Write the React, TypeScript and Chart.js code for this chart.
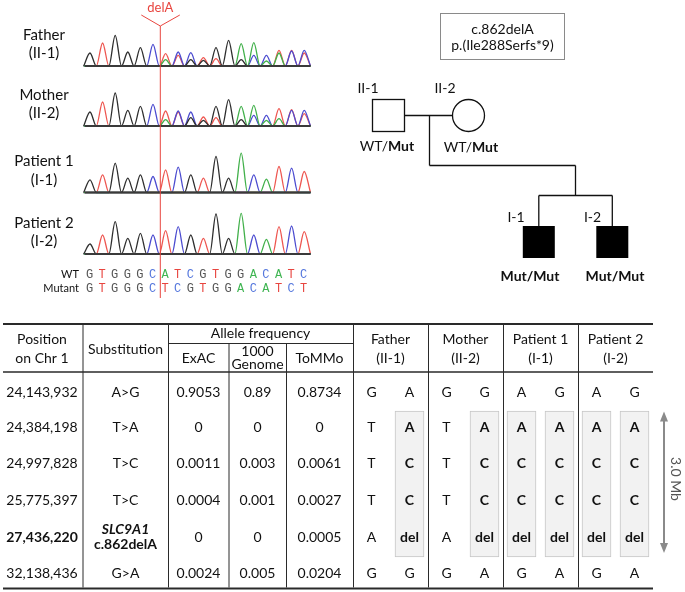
import React, { useEffect, useRef } from "react";
import { Chart, registerables } from "chart.js";

Chart.register(...registerables);

// ---------------- Chromatogram data ----------------
// Base calls shown under the traces
const WT_SEQ = ["G", "T", "G", "G", "G", "C", "A", "T", "C", "G", "T", "G", "G", "A", "C", "A", "T", "C"];
const MUT_SEQ = ["G", "T", "G", "G", "G", "C", "T", "C", "G", "T", "G", "G", "A", "C", "A", "T", "C", "T"];

const SAMPLE_NAMES = ["Father", "Mother", "Patient 1", "Patient 2"];
const SAMPLE_IDS = ["(II-1)", "(II-2)", "(I-1)", "(I-2)"];

// Peak heights at each of the 18 base positions (G = black, T = red, C = blue, A = green)
const FATHER_G = [13, 0, 30.7, 14, 18.3, 0, 0, 0, 6.3, 5.7, 18.3, 25.7, 6.3, 0, 0, 0, 0, 0];
const FATHER_T = [0, 23, 0, 0, 0, 0, 12.3, 10.7, 0, 8.3, 7.3, 0, 0, 0, 0, 15.7, 15.7, 13];
const FATHER_C = [0, 0, 0, 0, 0, 21.7, 0, 14, 13.3, 0, 0, 0, 0, 10.7, 10.7, 0, 15, 15.7];
const FATHER_A = [0, 0, 0, 0, 0, 0, 6.3, 0, 0, 0, 0, 0, 22.3, 23.3, 5, 13, 0, 0];

const MOTHER_G = [14, 0, 33, 15.7, 19.7, 0, 0, 0, 8.3, 5.7, 19.7, 26.3, 6.3, 0, 0, 0, 0, 0];
const MOTHER_T = [0, 24, 0, 0, 0, 0, 15, 14, 0, 9, 8.3, 0, 0, 0, 0, 17.3, 16.3, 12.3];
const MOTHER_C = [0, 0, 0, 0, 0, 21.7, 0, 15, 14, 0, 0, 0, 0, 10.7, 10.7, 0, 15.7, 15.7];
const MOTHER_A = [0, 0, 0, 0, 0, 0, 6.3, 0, 0, 0, 0, 0, 19.7, 20.7, 5.7, 7.3, 0, 0];

const P1_G = [12.7, 0, 29.3, 14.3, 17.7, 0, 0, 0, 17.7, 0, 36, 14.3, 0, 0, 0, 0, 0, 0];
const P1_T = [0, 17.7, 0, 0, 0, 0, 22.7, 0, 0, 14.3, 0, 0, 0, 0, 0, 26, 0, 21];
const P1_C = [0, 0, 0, 0, 0, 16, 0, 25.3, 0, 0, 0, 0, 0, 17.7, 0, 0, 24.3, 0];
const P1_A = [0, 0, 0, 0, 0, 0, 0, 0, 0, 0, 0, 0, 39.3, 0, 13.3, 0, 0, 0];

const P2_G = [10, 0, 32.3, 15.7, 20.7, 0, 0, 0, 19, 0, 40, 15.7, 0, 0, 0, 0, 0, 0];
const P2_T = [0, 19, 0, 0, 0, 0, 23.3, 0, 0, 15.7, 0, 0, 0, 0, 0, 27.3, 0, 22.3];
const P2_C = [0, 0, 0, 0, 0, 19, 0, 27.3, 0, 0, 0, 0, 0, 19, 0, 0, 28, 0];
const P2_A = [0, 0, 0, 0, 0, 0, 0, 0, 0, 0, 0, 0, 40.7, 0, 14.7, 0, 0, 0];

// ---------------- Table data ----------------
const POSITIONS = ["24,143,932", "24,384,198", "24,997,828", "25,775,397", "27,436,220", "32,138,436"];
const SUBSTITUTIONS = ["A>G", "T>A", "T>C", "T>C", "c.862delA", "G>A"];
const EXAC = ["0.9053", "0", "0.0011", "0.0004", "0", "0.0024"];
const G1000 = ["0.89", "0", "0.003", "0.001", "0", "0.005"];
const TOMMO = ["0.8734", "0", "0.0061", "0.0027", "0.0005", "0.0204"];
const PERSON_HEADERS = [["Father", "(II-1)"], ["Mother", "(II-2)"], ["Patient 1", "(I-1)"], ["Patient 2", "(I-2)"]];
const FATHER_ALLELES = [["G", "A"], ["T", "A"], ["T", "C"], ["T", "C"], ["A", "del"], ["G", "G"]];
const MOTHER_ALLELES = [["G", "G"], ["T", "A"], ["T", "C"], ["T", "C"], ["A", "del"], ["G", "A"]];
const P1_ALLELES = [["A", "G"], ["A", "A"], ["C", "C"], ["C", "C"], ["del", "del"], ["G", "A"]];
const P2_ALLELES = [["A", "G"], ["A", "A"], ["C", "C"], ["C", "C"], ["del", "del"], ["G", "A"]];
// which allele column carries the shared mutant haplotype (rows 2-5)
const HAPLO_FATHER = [false, true];
const HAPLO_MOTHER = [false, true];
const HAPLO_P1 = [true, true];
const HAPLO_P2 = [true, true];
const HAPLO_FIRST_ROW = 1;
const HAPLO_LAST_ROW = 4;
const MUTATION_ROW = 4;

// ---------------- Layout & style (figure pixel units) ----------------
const W = 685;
const H = 592;
const FONT = "Lato, 'Open Sans', sans-serif";
const MONO = "'Liberation Mono', 'DejaVu Sans Mono', monospace";
const TEXT = "#111111";
const TRACE_COLORS = { G: "#2e2e2e", T: "#ee5650", C: "#4c4cd0", A: "#41b04a" };
const LETTER_COLORS = { G: "#555555", T: "#e8453f", C: "#5577dd", A: "#3fb552" };
const CH_X0 = 90;
const CH_DX = 12.6;
const CH_BASELINES = [66, 126, 192.5, 254];
const CH_LABEL_X = 44;
const CUT_INDEX = 5.58;

const ROW_Y = [392, 427, 463, 500, 537, 573];
const COL_POS = 42;
const COL_SUB = 125.5;
const COL_EXAC = 198.5;
const COL_1000 = 257.5;
const COL_TOMMO = 319.5;
const PERSON_X = [390.5, 465.5, 540.5, 615.5];
const ALLELE_OFF = 19;

function traceData(heights: number[], base: number) {
  const pts: { x: number; y: number }[] = [{ x: CH_X0 - 0.5 * CH_DX, y: base }];
  heights.forEach((h, i) => {
    pts.push({ x: CH_X0 + i * CH_DX, y: base - h });
    pts.push({ x: CH_X0 + (i + 0.5) * CH_DX, y: base });
  });
  return pts;
}

const SAMPLES = [
  { G: FATHER_G, T: FATHER_T, C: FATHER_C, A: FATHER_A },
  { G: MOTHER_G, T: MOTHER_T, C: MOTHER_C, A: MOTHER_A },
  { G: P1_G, T: P1_T, C: P1_C, A: P1_A },
  { G: P2_G, T: P2_T, C: P2_C, A: P2_A },
];
const PERSON_ALLELES = [FATHER_ALLELES, MOTHER_ALLELES, P1_ALLELES, P2_ALLELES];
const PERSON_HAPLO = [HAPLO_FATHER, HAPLO_MOTHER, HAPLO_P1, HAPLO_P2];

function buildDatasets() {
  const ds: any[] = [];
  SAMPLES.forEach((s: any, k) => {
    (["G", "A", "C", "T"] as const).forEach((b) => {
      ds.push({
        type: "line",
        label: SAMPLE_NAMES[k] + " " + b,
        data: traceData(s[b], CH_BASELINES[k]),
        borderColor: (TRACE_COLORS as any)[b],
        borderWidth: 1.3,
        pointRadius: 0,
        fill: false,
        cubicInterpolationMode: "monotone",
      });
    });
  });
  const boxes: any[] = [];
  PERSON_HAPLO.forEach((flags, p) => {
    flags.forEach((f, a) => {
      if (f) {
        boxes.push({
          x: PERSON_X[p] + (a === 0 ? -ALLELE_OFF : ALLELE_OFF),
          y: [ROW_Y[HAPLO_FIRST_ROW] - 16, ROW_Y[HAPLO_LAST_ROW] + 20],
        });
      }
    });
  });
  ds.push({
    type: "bar",
    label: "haplotype",
    data: boxes,
    barThickness: 29,
    backgroundColor: "#f2f2f2",
    borderColor: "#c6c6c6",
    borderWidth: 1,
    borderSkipped: false,
    grouped: false,
  });
  return ds;
}

function txt(ctx: CanvasRenderingContext2D, s: string, x: number, y: number, font: string, color = TEXT, align: CanvasTextAlign = "center") {
  ctx.font = font;
  ctx.fillStyle = color;
  ctx.textAlign = align;
  ctx.textBaseline = "middle";
  ctx.fillText(s, x, y);
}

function mixed(ctx: CanvasRenderingContext2D, parts: [string, boolean][], cx: number, cy: number, size: number) {
  let total = 0;
  const widths = parts.map(([s, b]) => {
    ctx.font = (b ? "bold " : "") + size + "px " + FONT;
    const w = ctx.measureText(s).width;
    total += w;
    return w;
  });
  let x = cx - total / 2;
  parts.forEach(([s, b], i) => {
    txt(ctx, s, x, cy, (b ? "bold " : "") + size + "px " + FONT, TEXT, "left");
    x += widths[i];
  });
}

function line(ctx: CanvasRenderingContext2D, x1: number, y1: number, x2: number, y2: number, color: string, w: number) {
  ctx.beginPath();
  ctx.strokeStyle = color;
  ctx.lineWidth = w;
  ctx.moveTo(x1, y1);
  ctx.lineTo(x2, y2);
  ctx.stroke();
}

const figurePlugin = {
  id: "figure",
  afterDatasetsDraw(chart: any) {
    const ctx: CanvasRenderingContext2D = chart.ctx;
    const sx = chart.scales.x;
    const sy = chart.scales.y;
    const X = (v: number) => sx.getPixelForValue(v);
    const Y = (v: number) => sy.getPixelForValue(v);
    ctx.save();

    // ---- chromatogram baselines and labels ----
    CH_BASELINES.forEach((b, k) => {
      line(ctx, X(85), Y(b), X(310.5), Y(b), "#3a3a3a", 2);
      txt(ctx, SAMPLE_NAMES[k], X(CH_LABEL_X), Y(b - 31), "15px " + FONT);
      txt(ctx, SAMPLE_IDS[k], X(CH_LABEL_X), Y(b - 12.5), "15px " + FONT);
    });
    // deletion marker
    const cutX = X(CH_X0 + CUT_INDEX * CH_DX);
    line(ctx, cutX, Y(26), cutX, Y(298), "#e8453f", 1);
    ctx.beginPath();
    ctx.strokeStyle = "#e8453f";
    ctx.lineWidth = 1;
    ctx.moveTo(cutX - 19, Y(15));
    ctx.lineTo(cutX, Y(26));
    ctx.lineTo(cutX + 19.5, Y(15));
    ctx.stroke();
    txt(ctx, "delA", cutX, Y(7.5), "13px " + FONT, "#e8453f");
    // sequences
    txt(ctx, "WT", X(79), Y(274), "11px " + FONT, TEXT, "right");
    txt(ctx, "Mutant", X(79), Y(288.5), "11px " + FONT, TEXT, "right");
    WT_SEQ.forEach((c, i) => txt(ctx, c, X(CH_X0 + i * CH_DX - 0.5), Y(274.5), "12px " + MONO, (LETTER_COLORS as any)[c]));
    MUT_SEQ.forEach((c, i) => txt(ctx, c, X(CH_X0 + i * CH_DX - 0.5), Y(289), "12px " + MONO, (LETTER_COLORS as any)[c]));

    // ---- pedigree ----
    ctx.strokeStyle = "#8a8a8a";
    ctx.lineWidth = 1;
    ctx.strokeRect(X(440.5), Y(13.5), 124, 46);
    txt(ctx, "c.862delA", X(502.5), Y(29.5), "14px " + FONT);
    txt(ctx, "p.(Ile288Serfs*9)", X(502.5), Y(45.5), "14px " + FONT);
    txt(ctx, "II-1", X(368), Y(88), "14px " + FONT);
    txt(ctx, "II-2", X(445), Y(88), "14px " + FONT);
    ctx.strokeStyle = "#111";
    ctx.lineWidth = 1.3;
    ctx.strokeRect(X(372.5), Y(99.5), 32, 32);
    line(ctx, X(404.5), Y(115.5), X(452.5), Y(115.5), "#111", 1.3);
    ctx.beginPath();
    ctx.arc(X(468.5), Y(115.5), 16, 0, Math.PI * 2);
    ctx.stroke();
    line(ctx, X(429.5), Y(115.5), X(429.5), Y(165.5), "#111", 1.3);
    line(ctx, X(429.5), Y(165.5), X(575.5), Y(165.5), "#111", 1.3);
    line(ctx, X(575.5), Y(165.5), X(575.5), Y(195.5), "#111", 1.3);
    line(ctx, X(538.8), Y(195.5), X(612.3), Y(195.5), "#111", 1.3);
    line(ctx, X(538.8), Y(195.5), X(538.8), Y(226), "#111", 1.3);
    line(ctx, X(612.3), Y(195.5), X(612.3), Y(226), "#111", 1.3);
    ctx.fillStyle = "#000";
    ctx.fillRect(X(522.8), Y(226), 32, 32);
    ctx.fillRect(X(596.3), Y(226), 32, 32);
    txt(ctx, "I-1", X(516), Y(217), "14px " + FONT);
    txt(ctx, "I-2", X(592.5), Y(217), "14px " + FONT);
    mixed(ctx, [["WT/", false], ["Mut", true]], X(387), Y(146), 14);
    mixed(ctx, [["WT/", false], ["Mut", true]], X(471), Y(147), 14);
    mixed(ctx, [["Mut/Mut", true]], X(530), Y(276), 14);
    mixed(ctx, [["Mut/Mut", true]], X(615), Y(276), 14);

    // ---- table rules ----
    const dark = "#2a2a2a";
    line(ctx, X(3), Y(324), X(653), Y(324), dark, 2);
    line(ctx, X(3), Y(372), X(653), Y(372), dark, 1.5);
    line(ctx, X(3), Y(588.5), X(653), Y(588.5), dark, 2);
    line(ctx, X(168), Y(343.5), X(353), Y(343.5), dark, 1);
    [82.5, 168, 353, 428, 503, 578].forEach((vx) => line(ctx, X(vx) + 0.5, Y(325), X(vx) + 0.5, Y(587.5), dark, 1));
    [228.5, 286].forEach((vx) => line(ctx, X(vx) + 0.5, Y(343.5), X(vx) + 0.5, Y(587.5), dark, 1));

    // ---- table headers ----
    const F = "14px " + FONT;
    const FB = "bold 14px " + FONT;
    txt(ctx, "Position", X(COL_POS), Y(339.5), F);
    txt(ctx, "on Chr 1", X(COL_POS), Y(358), F);
    txt(ctx, "Substitution", X(COL_SUB), Y(349), F);
    txt(ctx, "Allele frequency", X(260.5), Y(333), F);
    txt(ctx, "ExAC", X(COL_EXAC), Y(358), F);
    txt(ctx, "1000", X(COL_1000), Y(351.5), F);
    txt(ctx, "Genome", X(COL_1000), Y(364.5), F);
    txt(ctx, "ToMMo", X(COL_TOMMO), Y(358), F);
    PERSON_HEADERS.forEach(([a, b], p) => {
      txt(ctx, a, X(PERSON_X[p]), Y(339.5), F);
      txt(ctx, b, X(PERSON_X[p]), Y(358), F);
    });

    // ---- table body ----
    ROW_Y.forEach((ry, r) => {
      const isMut = r === MUTATION_ROW;
      txt(ctx, POSITIONS[r], X(COL_POS), Y(ry), isMut ? FB : F);
      if (isMut) {
        txt(ctx, "SLC9A1", X(COL_SUB), Y(ry - 8), "italic bold 14px " + FONT);
        txt(ctx, SUBSTITUTIONS[r], X(COL_SUB), Y(ry + 7.5), FB);
      } else {
        txt(ctx, SUBSTITUTIONS[r], X(COL_SUB), Y(ry), F);
      }
      txt(ctx, EXAC[r], X(COL_EXAC), Y(ry), F);
      txt(ctx, G1000[r], X(COL_1000), Y(ry), F);
      txt(ctx, TOMMO[r], X(COL_TOMMO), Y(ry), F);
      PERSON_ALLELES.forEach((alleles, p) => {
        alleles[r].forEach((al, a) => {
          const inHaplo = PERSON_HAPLO[p][a] && r >= HAPLO_FIRST_ROW && r <= HAPLO_LAST_ROW;
          txt(ctx, al, X(PERSON_X[p] + (a === 0 ? -ALLELE_OFF : ALLELE_OFF)), Y(ry), inHaplo ? FB : F);
        });
      });
    });

    // ---- 3.0 Mb arrow ----
    const ax = X(664);
    const top = Y(411.5);
    const bot = Y(553);
    line(ctx, ax, top + 8, ax, bot - 8, "#8a8a8a", 2);
    ctx.fillStyle = "#8a8a8a";
    ctx.beginPath();
    ctx.moveTo(ax, top);
    ctx.lineTo(ax - 4, top + 10);
    ctx.lineTo(ax + 4, top + 10);
    ctx.closePath();
    ctx.fill();
    ctx.beginPath();
    ctx.moveTo(ax, bot);
    ctx.lineTo(ax - 4, bot - 10);
    ctx.lineTo(ax + 4, bot - 10);
    ctx.closePath();
    ctx.fill();
    ctx.save();
    ctx.translate(X(676), Y(479));
    ctx.rotate(Math.PI / 2);
    txt(ctx, "3.0 Mb", 0, 0, "14px " + FONT, "#555555");
    ctx.restore();

    ctx.restore();
  },
};

export default function App() {
  const ref = useRef<HTMLCanvasElement | null>(null);
  useEffect(() => {
    if (!ref.current) return;
    const chart = new Chart(ref.current, {
      type: "line",
      data: { datasets: buildDatasets() },
      options: {
        responsive: false,
        animation: false,
        devicePixelRatio: 1,
        layout: { padding: 0 },
        plugins: { legend: { display: false }, tooltip: { enabled: false }, title: { display: false } },
        events: [],
        scales: {
          x: { type: "linear", min: 0, max: W, display: false, offset: false },
          y: { type: "linear", min: 0, max: H, reverse: true, display: false, offset: false },
        },
      } as any,
      plugins: [figurePlugin],
    });
    let alive = true;
    if ((document as any).fonts && (document as any).fonts.ready) {
      (document as any).fonts.ready.then(() => {
        if (alive) chart.draw();
      });
    }
    return () => {
      alive = false;
      chart.destroy();
    };
  }, []);
  return (
    <div style={{ position: "absolute", left: 0, top: 0, width: W, height: H, background: "#fff" }}>
      <canvas ref={ref} width={W} height={H} style={{ display: "block", width: W, height: H }} />
    </div>
  );
}
